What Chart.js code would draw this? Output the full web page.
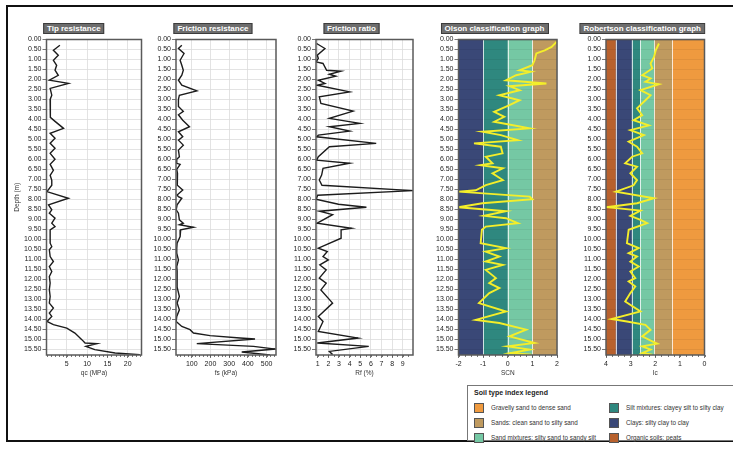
<!DOCTYPE html>
<html><head><meta charset="utf-8">
<script src="https://cdn.jsdelivr.net/npm/chart.js@4"></script>
<style>
html,body{margin:0;padding:0;background:#fff;width:733px;height:449px;overflow:hidden;font-family:"Liberation Sans",Arial,sans-serif}
#frame{position:absolute;left:6px;top:5px;width:760px;height:433px;border:2px solid #111}
canvas{position:absolute;top:30px}
.ptitle{position:absolute;top:23px;transform:translateX(-50%);background:#6d6d6d;color:#fff;font:bold 8px "Liberation Sans",Arial,sans-serif;line-height:9px;height:9px;padding:0 3px;border:1px solid #3c3c3c;white-space:nowrap}
#legend{position:absolute;left:467px;top:385px;width:300px;height:54px;border:1px solid #777;background:#fff}
#legend .lt{position:absolute;left:6px;top:3px;font:bold 7px "Liberation Sans",Arial,sans-serif;color:#222}
#legend .it{position:absolute;font:6.3px "Liberation Sans",Arial,sans-serif;color:#333;white-space:nowrap;line-height:10px}
#legend .sw{position:absolute;width:8px;height:8px;border:1px solid #555}
</style></head>
<body>
<div id="frame"></div>
<div id="legend"><div class="lt">Soil type index legend</div></div>
<script>
// ---------- data ----------
const depthTicks = [0,0.5,1,1.5,2,2.5,3,3.5,4,4.5,5,5.5,6,6.5,7,7.5,8,8.5,9,9.5,10,10.5,11,11.5,12,12.5,13,13.5,14,14.5,15,15.5];
const depthMax = 15.8;

const qcDepth = [0.29,0.54,0.79,1.04,1.29,1.54,1.79,2.04,2.2,2.45,2.79,3.0,3.45,3.9,4.1,4.45,4.7,4.95,5.2,5.45,5.7,6.0,6.25,6.55,6.8,7.05,7.3,7.62,7.95,8.28,8.53,8.7,8.95,9.2,9.37,9.53,9.87,10.2,10.37,10.53,10.87,11.12,11.37,11.62,11.87,12.2,12.53,12.87,13.2,13.45,13.7,13.87,14.12,14.28,14.45,14.7,15.03,15.2,15.23,15.37,15.53,15.7,15.78];
const qcValues = [3.3,1.7,2.9,1.7,2.5,2.1,2.9,0.7,5.4,0.9,1.3,0.9,1.0,0.9,2.1,4.2,0.9,2.1,0.9,2.1,0.9,2.1,0.9,1.7,0.9,1.3,1.3,0.1,5.4,0.5,1.3,0.7,2.1,1.3,2.1,0.9,0.9,0.9,1.3,0.7,0.9,1.7,0.7,1.3,0.7,0.9,0.7,0.9,0.7,1.7,0.7,1.3,0.1,1.7,5.0,7.0,8.7,9.5,12.4,9.7,11.9,16.9,23];

const fsDepth = [0.29,0.45,0.7,1.04,1.29,1.54,1.79,2.04,2.29,2.57,2.79,3.0,3.35,3.6,3.77,4.04,4.37,4.62,4.87,5.04,5.29,5.54,5.87,6.0,6.2,6.25,6.5,6.7,7.0,7.3,7.54,7.79,7.87,7.95,8.28,8.53,8.7,9.03,9.2,9.28,9.4,9.53,9.87,10.2,10.45,10.7,11.04,11.37,11.6,12.0,12.4,12.87,13.2,13.54,13.87,14.12,14.37,14.53,14.7,14.83,14.95,15.0,15.23,15.37,15.5,15.65,15.8];
const fsValues = [47,29,59,38,47,55,47,29,47,127,34,29,29,55,29,52,88,29,52,29,55,29,34,20,20,38,20,24,24,22,52,22,29,47,22,17,29,34,55,34,109,41,38,22,20,20,29,20,22,22,22,34,22,34,20,17,47,91,109,198,358,438,127,430,545,367,518];

const rfDepth = [0.2,0.45,0.79,0.95,1.12,1.2,1.54,1.59,1.74,1.84,2.04,2.2,2.29,2.62,2.87,3.2,3.59,3.95,4.2,4.37,4.59,4.79,4.87,5.2,5.37,5.87,6.04,6.2,6.45,6.79,7.04,7.3,7.57,7.8,8.0,8.25,8.4,8.6,8.77,9.2,9.45,9.53,9.95,10.45,10.62,10.87,11.04,11.29,11.54,11.95,12.2,12.54,13.2,13.87,14.12,14.62,14.95,15.2,15.37,15.62,15.78];
const rfValues = [0.9,1.68,0.96,1.06,0.84,1.5,1.84,3.18,2.1,2.7,1.06,1.68,0.96,4.0,1.15,1.3,4.33,2.1,4.95,2.1,4.0,1.06,0.9,6.5,2.1,1.06,0.9,4.0,1.5,1.37,1.15,1.4,9.95,1.0,0.84,2.95,5.58,1.2,2.4,0.96,4.18,3.2,3.2,1.06,1.9,1.5,2.0,1.2,1.8,1.15,1.8,1.3,2.4,1.06,1.5,1.06,4.8,0.96,5.8,2.1,2.4];

const scnDepth = [0.12,0.37,0.54,0.7,1.04,1.29,1.54,1.62,1.79,2.04,2.2,2.34,2.54,2.79,3.04,3.29,3.62,3.87,4.12,4.45,4.62,4.79,5.04,5.2,5.37,5.7,5.87,6.2,6.29,6.45,6.7,7.04,7.29,7.55,7.62,7.87,8.0,8.2,8.4,8.6,8.83,8.95,9.2,9.37,9.53,10.2,10.45,10.62,10.87,11.12,11.29,11.54,11.95,12.2,12.45,12.7,13.2,13.62,14.04,14.2,14.53,14.87,15.2,15.37,15.53,15.7,15.78];
const scnValues = [1.98,1.78,1.5,1.16,1.09,1.0,0.48,0.94,0.34,-0.07,1.57,0.07,0.48,-0.34,0.48,0.07,-0.55,-0.14,-0.55,0.89,-1.03,-0.28,0.41,-1.37,-0.28,-0.21,-0.89,-0.62,-1.1,-0.2,-0.62,-0.2,-0.89,-1.3,-2.0,0.89,1.0,-1.03,-2.0,-0.07,-0.96,-0.07,0.41,-0.89,-1.05,-1.1,-0.07,-0.9,-0.34,-0.9,-0.2,-0.89,-0.48,-0.75,-0.34,-0.75,-1.17,-0.07,-1.3,-0.34,0.75,0.07,1.09,0.0,0.89,0.1,0.96];

const icDepth = [0.2,0.54,0.87,1.2,1.45,1.79,1.95,2.12,2.24,2.54,2.79,3.04,3.45,3.79,4.04,4.3,4.54,4.79,5.12,5.37,5.7,5.87,6.2,6.37,6.7,7.04,7.3,7.62,7.95,8.2,8.4,8.57,8.83,9.03,9.2,9.53,10.2,10.45,10.7,10.87,11.12,11.37,11.62,11.95,12.12,12.37,12.7,13.12,13.62,14.0,14.12,14.29,14.54,14.87,15.12,15.23,15.37,15.53,15.7,15.78];
const icValues = [1.85,1.98,2.05,2.19,2.12,2.53,2.19,2.4,1.85,2.6,2.19,2.4,2.74,2.53,2.88,2.26,3.01,2.46,3.08,2.74,2.53,2.94,3.22,2.74,3.01,2.74,2.88,3.6,2.05,2.74,3.97,2.6,3.01,2.6,2.33,3.08,3.15,2.67,3.08,2.74,3.01,2.67,3.01,2.81,3.08,2.81,3.01,3.22,2.6,3.77,3.15,2.4,2.19,2.53,2.12,1.92,2.53,2.19,2.53,2.12];

const qcTicks = [5,10,15,20];
const fsTicks = [100,200,300,400,500];
const rfTicks = [1,2,3,4,5,6,7,8,9];
const scnTicks = [-2,-1,0,1,2];
const icTicks = [4,3,2,1,0];

const olsonBounds = [-2,-1,0,1,2];
const olsonClasses = ['clays','silt','sandmix','sands'];
const robBounds = [4,3.6,2.95,2.6,2.05,1.31,0];
const robClasses = ['organic','clays','silt','sandmix','sands','gravel'];

const soilLabels = {
  gravel:'Gravelly sand to dense sand',
  sands:'Sands: clean sand to silty sand',
  sandmix:'Sand mixtures: silty sand to sandy silt',
  silt:'Silt mixtures: clayey silt to silty clay',
  clays:'Clays: silty clay to clay',
  organic:'Organic soils: peats'
};
const legendOrder = ['gravel','sands','sandmix','silt','clays','organic'];

// ---------- styles ----------
const soilColors = {gravel:'#ef9a3f', sands:'#bf9a5f', sandmix:'#75c8a4', silt:'#2f887f', clays:'#3a4877', organic:'#b8612d'};

// ---------- plugins ----------
const bandPlugin = {
  id:'bands',
  beforeDatasetsDraw(chart, args, o){
    if(!o || !o.bounds) return;
    const xs = chart.scales.x, a = chart.chartArea, c = chart.ctx;
    c.save();
    for(let i=0;i<o.classes.length;i++){
      const x1 = xs.getPixelForValue(o.bounds[i]), x2 = xs.getPixelForValue(o.bounds[i+1]);
      c.fillStyle = soilColors[o.classes[i]];
      c.fillRect(Math.min(x1,x2), a.top, Math.abs(x2-x1), a.bottom-a.top);
    }
    c.strokeStyle = 'rgba(0,0,0,0.06)'; c.lineWidth = 1;
    const ys = chart.scales.y;
    depthTicks.forEach(d=>{const y=Math.round(ys.getPixelForValue(d))+0.5; c.beginPath(); c.moveTo(a.left,y); c.lineTo(a.right,y); c.stroke();});
    c.strokeStyle = 'rgba(255,255,255,0.75)'; c.lineWidth = 1;
    for(let i=1;i<o.bounds.length-1;i++){
      const x = Math.round(xs.getPixelForValue(o.bounds[i]))+0.5;
      c.beginPath(); c.moveTo(x,a.top); c.lineTo(x,a.bottom); c.stroke();
    }
    c.restore();
  }
};
const framePlugin = {
  id:'plotframe',
  afterDatasetsDraw(chart, args, o){
    const a = chart.chartArea, c = chart.ctx;
    c.save(); c.strokeStyle='#5a5a5a'; c.lineWidth=1.5;
    c.strokeRect(a.left, a.top, a.right-a.left, a.bottom-a.top);
    if(o && o.minor){
      const xs = chart.scales.x; const lo=Math.min(xs.min,xs.max), hi=Math.max(xs.min,xs.max);
      c.lineWidth=0.8; c.strokeStyle='#555';
      for(let v=Math.ceil(lo/o.minor)*o.minor; v<=hi+1e-9; v+=o.minor){
        const x = Math.round(xs.getPixelForValue(v))+0.5;
        c.beginPath(); c.moveTo(x,a.bottom); c.lineTo(x,a.bottom+2); c.stroke();
      }
    }
    c.restore();
  }
};

const tickFont = {family:'"Liberation Sans", Arial, sans-serif', size:7};
const titleFont = {family:'"Liberation Sans", Arial, sans-serif', size:6.5};

function makePanel(p){
  const canvasW = Math.ceil(p.plotRight - p.canvasLeft + 5);
  const padRight = canvasW - (p.plotRight - p.canvasLeft);
  const yW = p.plotLeft - p.canvasLeft - p.padLeft;
  const cv = document.createElement('canvas');
  cv.width = canvasW; cv.height = 360;
  cv.style.left = p.canvasLeft+'px'; cv.style.width = canvasW+'px'; cv.style.height='360px';
  document.body.appendChild(cv);
  const pts = p.depth.map((d,i)=>({x:p.values[i], y:d}));
  const t = document.createElement('div'); t.className='ptitle'; t.textContent=p.title;
  t.style.left = (p.canvasLeft + (p.plotRight - p.canvasLeft + p.padLeft)/2)+'px';
  document.body.appendChild(t);
  new Chart(cv, {
    type:'line',
    data:{datasets:[{data:pts, borderColor:p.color, borderWidth:p.lw, pointRadius:0, fill:false, tension:0}]},
    options:{
      indexAxis:'y', responsive:false, animation:false, devicePixelRatio:1,
      layout:{padding:{top:9.5, left:p.padLeft, right:padRight, bottom:0}},
      plugins:{legend:{display:false}, tooltip:{enabled:false}, title:{display:false},
        bands: p.bands || {}, plotframe:{minor:p.minor}},
      scales:{
        x:{type:'linear', position:'bottom', min:p.xmin, max:p.xmax, reverse:!!p.xreverse,
          afterBuildTicks:s=>{s.ticks = p.xticks.map(v=>({value:v}));},
          afterFit:s=>{s.height=35;},
          ticks:{font:tickFont, color:'#222', padding:2, maxRotation:0, autoSkip:false, callback:v=>String(v)},
          grid:{color:'#dcdcdc', lineWidth:0.8, tickLength:3, tickColor:'#555'},
          border:{display:false},
          title:{display:true, text:p.xtitle, font:titleFont, color:'#333', padding:{top:0,bottom:13}}
        },
        y:{type:'linear', reverse:true, min:0, max:depthMax,
          afterBuildTicks:s=>{s.ticks = depthTicks.map(v=>({value:v}));},
          afterFit:s=>{s.width=yW;},
          ticks:{font:tickFont, color:'#222', padding:1, autoSkip:false, callback:v=>Number(v).toFixed(2)},
          grid:{color:'#dcdcdc', lineWidth:0.8, tickLength:4, tickColor:'#555'},
          border:{display:false},
          title:{display:!!p.ytitle, text:p.ytitle||'', font:titleFont, color:'#333', padding:{top:7,bottom:0}}
        }
      }
    },
    plugins:[bandPlugin, framePlugin]
  });
}

makePanel({title:'Tip resistance', canvasLeft:0, padLeft:6, plotLeft:46.5, plotRight:141.5,
  depth:qcDepth, values:qcValues, color:'#1c1c1c', lw:1.4, xmin:0, xmax:23.4, xticks:qcTicks, minor:1,
  xtitle:'qc (MPa)', ytitle:'Depth (m)'});
makePanel({title:'Friction resistance', canvasLeft:150, padLeft:0, plotLeft:176, plotRight:276,
  depth:fsDepth, values:fsValues, color:'#1c1c1c', lw:1.4, xmin:16, xmax:550, xticks:fsTicks, minor:20,
  xtitle:'fs (kPa)'});
makePanel({title:'Friction ratio', canvasLeft:290, padLeft:0, plotLeft:316, plotRight:413,
  depth:rfDepth, values:rfValues, color:'#1c1c1c', lw:1.4, xmin:0.84, xmax:9.96, xticks:rfTicks, minor:0.5,
  xtitle:'Rf (%)'});
makePanel({title:'Olson classification graph', canvasLeft:432, padLeft:0, plotLeft:458.5, plotRight:557,
  depth:scnDepth, values:scnValues, color:'#f4ee2a', lw:1.9, xmin:-2, xmax:2, xticks:scnTicks, minor:0.25,
  xtitle:'SCN', bands:{bounds:olsonBounds, classes:olsonClasses}});
makePanel({title:'Robertson classification graph', canvasLeft:580, padLeft:0, plotLeft:606, plotRight:704.5,
  depth:icDepth, values:icValues, color:'#f4ee2a', lw:1.9, xmin:0, xmax:4, xreverse:true, xticks:icTicks, minor:0.25,
  xtitle:'Ic', bands:{bounds:robBounds, classes:robClasses}});

// legend (HTML)
const leg = document.getElementById('legend');
legendOrder.forEach((k,i)=>{
  const col = Math.floor(i/3), row = i%3;
  const sx = col===0 ? 6 : 141, sy = 17 + row*15;
  const sw = document.createElement('div'); sw.className='sw';
  sw.style.left = sx+'px'; sw.style.top = sy+'px'; sw.style.background = soilColors[k];
  leg.appendChild(sw);
  const tx = document.createElement('div'); tx.className='it';
  tx.style.left = (sx+17)+'px'; tx.style.top = sy+'px'; tx.textContent = soilLabels[k];
  leg.appendChild(tx);
});
</script>
</body></html>
